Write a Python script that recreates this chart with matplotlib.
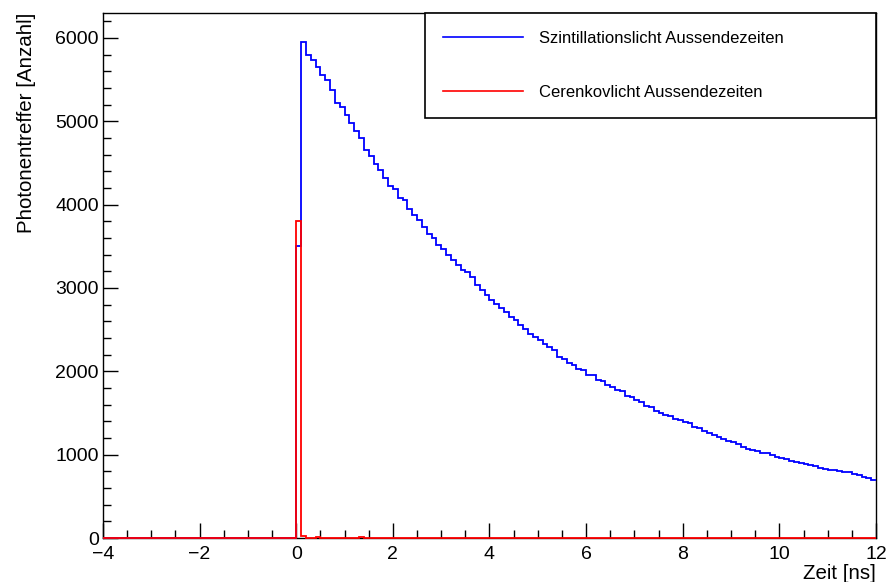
import numpy as np
import matplotlib
matplotlib.use("Agg")
import matplotlib.pyplot as plt
from matplotlib.ticker import MultipleLocator

plt.rcParams['font.family'] = ['Liberation Sans', 'DejaVu Sans']

# bin edges: 0.1 ns bins from -4 to 12 ns
bin_width = 0.1
t_start, t_stop = -4.0, 12.0
n_empty = 40  # bins before t = 0 (no photons)

# Szintillationslicht, bins from 0.0 ns to 12.0 ns
szint_counts = [
    3500, 5950, 5800, 5740, 5650, 5560, 5500, 5380, 5220, 5170,
    5080, 4980, 4880, 4800, 4650, 4580, 4490, 4410, 4320, 4220,
    4190, 4080, 4050, 3950, 3880, 3820, 3730, 3650, 3600, 3510,
    3470, 3400, 3330, 3280, 3220, 3190, 3130, 3040, 2970, 2910,
    2860, 2810, 2760, 2710, 2650, 2610, 2560, 2510, 2450, 2410,
    2380, 2330, 2290, 2250, 2170, 2150, 2100, 2080, 2030, 2010,
    1960, 1950, 1900, 1880, 1830, 1810, 1780, 1760, 1700, 1690,
    1650, 1630, 1580, 1570, 1520, 1500, 1470, 1465, 1430, 1420,
    1390, 1375, 1330, 1315, 1285, 1265, 1235, 1215, 1185, 1165,
    1150, 1125, 1090, 1070, 1050, 1045, 1020, 1015, 990, 975,
    955, 945, 925, 915, 905, 890, 870, 860, 840, 830,
    815, 812, 800, 795, 790, 770, 752, 735, 722, 700,
]

# Cerenkovlicht, bins from 0.0 ns onward (only a short spike)
ceren_counts = [3800, 20, 0, 0, 12, 0, 0, 0, 0, 0, 0, 0, 0, 10]

legend_labels = ["Szintillationslicht Aussendezeiten", "Cerenkovlicht Aussendezeiten"]

edges = np.round(np.arange(t_start, t_stop + bin_width / 2, bin_width), 3)
n_bins = len(edges) - 1
szint = np.zeros(n_bins)
szint[n_empty:n_empty + len(szint_counts)] = szint_counts
ceren = np.zeros(n_bins)
ceren[n_empty:n_empty + len(ceren_counts)] = ceren_counts

fig = plt.figure(figsize=(8.87, 5.82), dpi=100)
ax = fig.add_axes([0.1161, 0.0756, 0.8715, 0.9021])

# baseline=None -> no closing verticals at the histogram ends (ROOT look)
ax.stairs(szint, edges, color='#0000ff', lw=1.3, label=legend_labels[0],
          baseline=None, zorder=3, clip_on=False)
ax.stairs(ceren, edges, color='#ff0000', lw=1.3, label=legend_labels[1],
          baseline=None, zorder=3, clip_on=False)

ax.set_xlim(t_start, t_stop)
ax.set_ylim(0, 6300)
ax.xaxis.set_major_locator(MultipleLocator(2))
ax.xaxis.set_minor_locator(MultipleLocator(0.5))
ax.yaxis.set_major_locator(MultipleLocator(1000))
ax.yaxis.set_minor_locator(MultipleLocator(200))
ax.tick_params(which='both', direction='in', top=False, right=False, labelsize=14, width=1)
ax.tick_params(which='major', length=11)
ax.tick_params(which='minor', length=5.5)
ax.tick_params(axis='x', pad=5.5)
ax.tick_params(axis='y', pad=3)
for s in ax.spines.values():
    s.set_linewidth(1)

ax.set_xlabel('Zeit [ns]', loc='right', fontsize=14.8, labelpad=1)
ax.set_ylabel('Photonentreffer [Anzahl]', loc='top', fontsize=14.8, labelpad=14)

leg = ax.legend(loc='upper left', bbox_to_anchor=(0.4166, 0.8, 0.5834, 0.2),
                mode='expand', borderaxespad=0, fancybox=False, edgecolor='black',
                fontsize=12, handlelength=4.75, handletextpad=0.96, labelspacing=2.3,
                borderpad=1.1, framealpha=1)
leg.get_frame().set_linewidth(1.2)
leg.set_zorder(5)
for h in leg.get_lines():
    h.set_linewidth(1.2)

fig.savefig('out.png', dpi=100)
